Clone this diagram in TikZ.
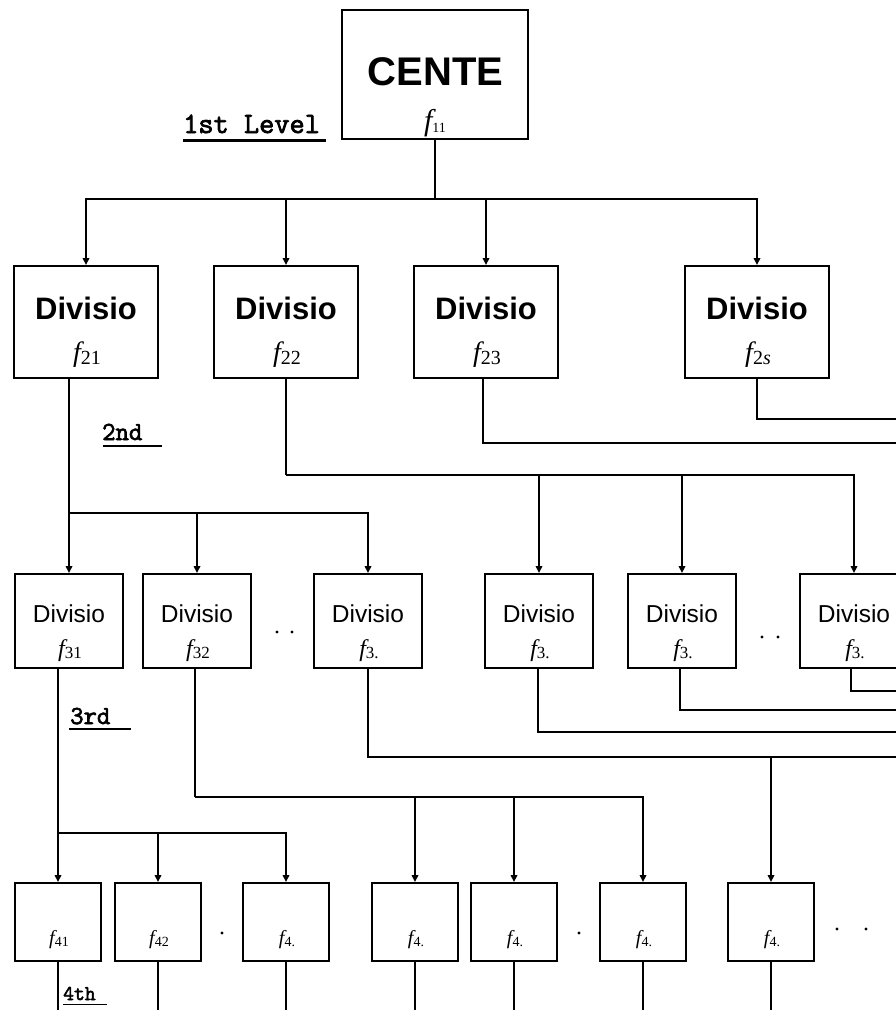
\documentclass[tikz,border=0pt]{standalone}
\usepackage{fontspec}
\setmainfont{Liberation Serif}
\setsansfont{Liberation Sans}
\newfontfamily\courb[FakeBold=2.5]{Latin Modern Mono}
\usetikzlibrary{arrows.meta}
\newcommand\fsz[1]{\fontsize{#1}{#1}\selectfont}
\newcommand\fl[4]{{\fsz{#1}\itshape f}\raisebox{-#3}{\fsz{#2}#4}}
\begin{document}
\begin{tikzpicture}[x=1pt,y=-1pt,
  box/.style={draw, line width=1.9pt, inner sep=0pt},
  boxA/.style={box, minimum width=186pt, minimum height=129pt},
  boxB/.style={box, minimum width=144pt, minimum height=112pt},
  boxC/.style={box, minimum width=108pt, minimum height=94pt},
  boxD/.style={box, minimum width=86pt, minimum height=78pt},
  txt/.style={inner sep=0pt, anchor=base},
  lvl/.style={inner sep=0pt, anchor=base west},
  conn/.style={line width=1.6pt},
  arr/.style={conn, -{Triangle[length=7pt,width=6.5pt]}},
  dot/.style={fill=black}]
\useasboundingbox (0,0) rectangle (896,1010);
\fill[white] (0,0) rectangle (896,1010);

% ---------- level 1
\node[boxA] (cente) at (435,74.5) {};
\node[txt, font=\sffamily\bfseries\fsz{40}] (centet) at (435.5,85) {CENTE};
\node[txt] (f11) at (435,130) {\fl{30}{14}{2pt}{11}};
\node[lvl, font=\courb\fsz{29.5}] (lab1) at (183,133) {1st Level};
\draw[line width=2.6pt] (183,140.5) -- (326,140.5);

% ---------- level 2
\foreach \n/\x/\s in {d21/86/21, d22/286/22, d23/486/23, d2s/757/2\textit{s}}{
  \node[boxB] (\n) at (\x,322) {};
  \node[txt, font=\sffamily\bfseries\fsz{31}] (\n t) at (\x,319) {Divisio};
  \node[txt] (\n f) at (\x+1,361) {\fl{28}{20}{3pt}{\s}};
}
\node[lvl, font=\courb\fsz{26}] (lab2) at (102,440) {2nd};
\draw[line width=1.5pt] (103,446) -- (162,446);

% ---------- level 3
\foreach \n/\x/\s in {l31/69/31, l32/197/32, l33/368/3., l3a/539/3., l3b/682/3., l3c/854/3.}{
  \node[boxC] (\n) at (\x,621) {};
  \node[txt, font=\sffamily\fsz{24.5}] (\n t) at (\x,622) {Divisio};
  \node[txt] (\n f) at (\x+1,656) {\fl{24}{17}{2.5pt}{\s}};
}
\node[lvl, font=\courb\fsz{26}] (lab3) at (70,724) {3rd};
\draw[line width=2pt] (69,729) -- (131,729);
\fill[dot] (277,632) circle[radius=1.6pt];
\fill[dot] (292,632) circle[radius=1.6pt];
\fill[dot] (762,637) circle[radius=1.6pt];
\fill[dot] (778,637) circle[radius=1.6pt];

% ---------- level 4
\foreach \n/\x/\s in {l41/58/41, l42/158/42, l43/286/4., l44/415/4., l45/514/4., l46/643/4., l47/771/4.}{
  \node[boxD] (\n) at (\x,922) {};
  \node[txt] (\n f) at (\x+1,944) {\fl{20}{14}{2pt}{\s}};
  \coordinate (\n e) at (\x,1013);
  \draw[conn] (\n.south) -- (\n e);
}
\node[lvl, font=\courb\fsz{21}] (lab4) at (63,1000) {4th};
\draw[line width=1.3pt] (63,1004.5) -- (107,1004.5);
\fill[dot] (222,933) circle[radius=1.6pt];
\fill[dot] (579,933) circle[radius=1.6pt];
\fill[dot] (837,929) circle[radius=1.6pt];
\fill[dot] (866,929) circle[radius=1.6pt];

% ---------- connectors level 1 -> 2
\coordinate (b1) at (435,199);
\draw[conn] (cente.south) -- (b1);
\foreach \n in {d21,d22,d23,d2s}{\draw[arr] (b1) -| (\n.north);}

% ---------- connectors level 2 -> 3
\coordinate (b21) at (69,513);
\draw[arr] (l31.north |- d21.south) -- (l31.north);
\draw[arr] (b21) -| (l32.north);
\draw[arr] (b21) -| (l33.north);

\coordinate (b22) at (286,475);
\draw[conn] (d22.south) -- (b22);
\draw[arr] (b22) -| (l3a.north);
\draw[arr] (b22) -| (l3b.north);
\draw[arr] (b22) -| (l3c.north);

\coordinate (e23) at (900,443);
\draw[conn] ([xshift=-3pt]d23.south) |- (e23);
\coordinate (e2s) at (900,419);
\draw[conn] (d2s.south) |- (e2s);

% ---------- connectors level 3 -> 4
\coordinate (b31) at (58,833);
\draw[arr] (l41.north |- l31.south) -- (l41.north);
\draw[arr] (b31) -| (l42.north);
\draw[arr] (b31) -| (l43.north);

\coordinate (b32) at (195,797);
\draw[conn] ([xshift=-2pt]l32.south) -- (b32);
\draw[arr] (b32) -| (l44.north);
\draw[arr] (b32) -| (l45.north);
\draw[arr] (b32) -| (l46.north);

\coordinate (e33) at (900,757);
\draw[conn] (l33.south) |- (e33);
\draw[arr] (l47.north |- e33) -- (l47.north);

\coordinate (e3a) at (900,732);
\draw[conn] ([xshift=-1pt]l3a.south) |- (e3a);
\coordinate (e3b) at (900,710);
\draw[conn] ([xshift=-2pt]l3b.south) |- (e3b);
\coordinate (e3c) at (900,691);
\draw[conn] ([xshift=-3pt]l3c.south) |- (e3c);
\end{tikzpicture}
\end{document}
